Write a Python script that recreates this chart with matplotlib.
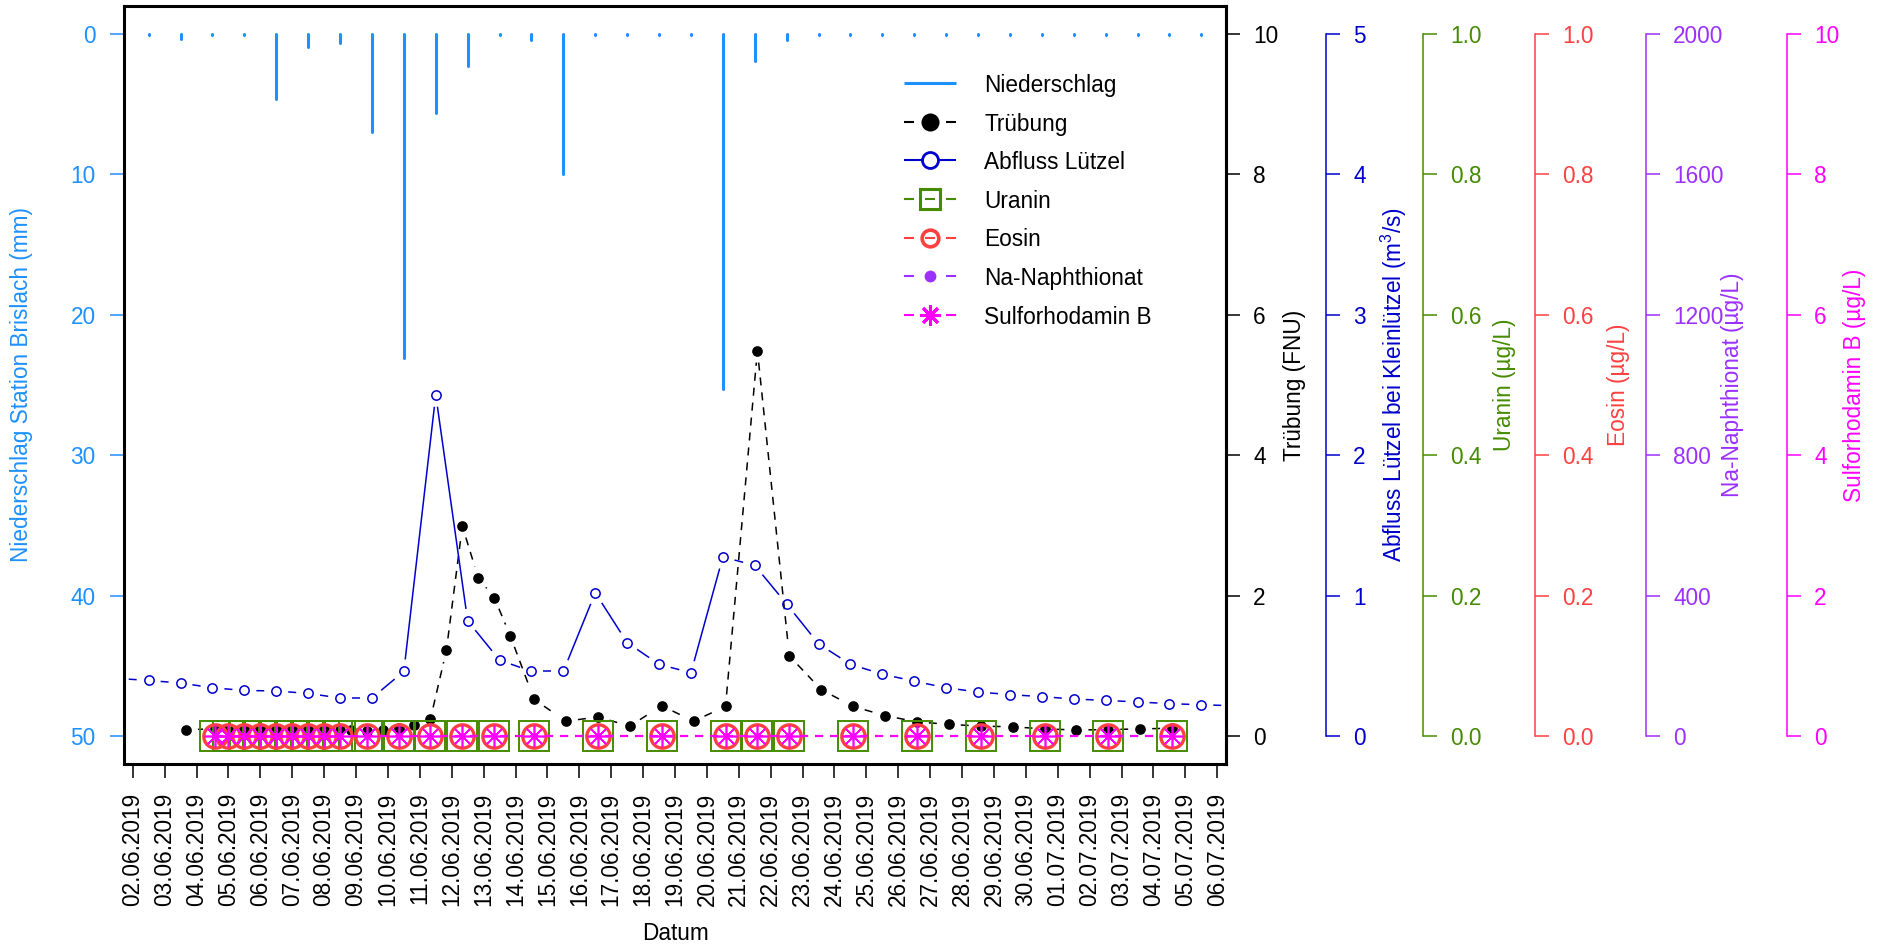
import numpy as np
import pandas as pd
import matplotlib
matplotlib.use("Agg")
import matplotlib.pyplot as plt
import matplotlib.dates as mdates
from matplotlib.lines import Line2D
from matplotlib.collections import LineCollection
from matplotlib.legend_handler import HandlerBase
from matplotlib.ticker import FixedLocator, FormatStrFormatter

plt.rcParams['font.family'] = ['Liberation Sans', 'DejaVu Sans']
plt.rcParams['mathtext.default'] = 'regular'
plt.rcParams['lines.scale_dashes'] = False

#______________________________ DATA ______________________________#

# daily precipitation Brislach (mm), values at noon
precip_start = '2019-06-02 12:00'
precip_mm = [0.1, 0.35, 0.1, 0.1, 4.6, 0.95, 0.65, 7.0, 23.1, 5.6,
             2.3, 0.1, 0.4, 10.0, 0.1, 0.1, 0.1, 0.1, 25.3, 1.9,
             0.4, 0.1, 0.1, 0.1, 0.1, 0.1, 0.1, 0.1, 0.1, 0.1,
             0.1, 0.1, 0.1, 0.1]

# daily discharge Lützel (m3/s), values at noon
abfluss_start = '2019-06-01 12:00'
abfluss = [0.41, 0.395, 0.377, 0.343, 0.324, 0.320, 0.303, 0.27, 0.27, 0.46,
           2.43, 0.82, 0.54, 0.46, 0.46, 1.02, 0.665, 0.51, 0.45, 1.275,
           1.215, 0.94, 0.656, 0.51, 0.44, 0.39, 0.343, 0.313, 0.294, 0.28,
           0.263, 0.253, 0.242, 0.23, 0.222, 0.215]

# turbidity (FNU)
trueb_time = ['2019-06-03 16:00', '2019-06-04 14:00', '2019-06-05 00:00', '2019-06-05 12:00',
              '2019-06-06 00:00', '2019-06-06 12:00', '2019-06-07 00:00', '2019-06-07 12:00',
              '2019-06-08 00:00', '2019-06-08 12:00', '2019-06-08 20:00', '2019-06-09 08:00',
              '2019-06-09 20:00', '2019-06-10 08:00', '2019-06-10 20:00', '2019-06-11 08:00',
              '2019-06-11 20:00', '2019-06-12 08:00', '2019-06-12 20:00', '2019-06-13 08:00',
              '2019-06-13 20:00', '2019-06-14 14:00', '2019-06-15 14:00', '2019-06-16 14:00',
              '2019-06-17 14:00', '2019-06-18 14:00', '2019-06-19 14:00', '2019-06-20 14:00',
              '2019-06-21 14:00', '2019-06-22 14:00', '2019-06-23 14:00', '2019-06-24 14:00',
              '2019-06-25 14:00', '2019-06-26 14:00', '2019-06-27 14:00', '2019-06-28 14:00',
              '2019-06-29 14:00', '2019-06-30 14:00', '2019-07-01 14:00', '2019-07-02 14:00',
              '2019-07-03 14:00', '2019-07-04 14:00']
trueb = [0.09, 0.10, 0.10, 0.10, 0.11, 0.10, 0.10, 0.10, 0.10, 0.09,
         0.09, 0.07, 0.09, 0.12, 0.15, 0.24, 1.22, 2.99, 2.25, 1.97,
         1.43, 0.52, 0.21, 0.27, 0.14, 0.43, 0.21, 0.42, 5.49, 1.14,
         0.66, 0.42, 0.29, 0.20, 0.165, 0.14, 0.13, 0.10, 0.085, 0.09,
         0.10, 0.11]

# tracer samples (µg/L)
probe_time = ['2019-06-04 14:00', '2019-06-05 00:00', '2019-06-05 12:00', '2019-06-06 00:00',
              '2019-06-06 12:00', '2019-06-07 00:00', '2019-06-07 12:00', '2019-06-08 00:00',
              '2019-06-08 12:00', '2019-06-09 08:00', '2019-06-10 08:00', '2019-06-11 08:00',
              '2019-06-12 08:00', '2019-06-13 08:00', '2019-06-14 14:00', '2019-06-16 14:00',
              '2019-06-18 14:00', '2019-06-20 14:00', '2019-06-21 14:00', '2019-06-22 14:00',
              '2019-06-24 14:00', '2019-06-26 14:00', '2019-06-28 14:00', '2019-06-30 14:00',
              '2019-07-02 14:00', '2019-07-04 14:00']
uranin = [0.0] * 26
eosin = [0.0] * 26
naphthionat = [0.0] * 26
sulforhodamin = [0.0] * 26

#______________________________ STYLE ______________________________#

c_rain = '#1E90FF'
c_q = '#0000CD'
c_ura = '#458B00'
c_eos = '#FF4040'
c_nap = '#9B30FF'
c_sulf = '#FF00FF'
fs = 16.3
W, H = 1883, 949
L, R, T, B = 124, 1226, 6, 764      # plot box in pixels
dash = (0, (5.8, 5.0))

t_rain = mdates.date2num(pd.date_range(precip_start, periods=len(precip_mm), freq='D').to_numpy())
t_q = mdates.date2num(pd.date_range(abfluss_start, periods=len(abfluss), freq='D').to_numpy())
t_tr = mdates.date2num(pd.to_datetime(trueb_time).to_numpy())
t_pr = mdates.date2num(pd.to_datetime(probe_time).to_numpy())


def gapped(ax, x, y, gap=12.0):
    # segments between points, shortened at both ends (like R type="b")
    pts = ax.transData.transform(np.column_stack([x, y]))
    inv = ax.transData.inverted()
    segs = []
    for p0, p1 in zip(pts[:-1], pts[1:]):
        d = p1 - p0
        n = np.hypot(d[0], d[1])
        if n <= 2 * gap:
            continue
        u = d / n
        segs.append(inv.transform(np.array([p0 + u * gap, p1 - u * gap])))
    return segs


class RHandler(HandlerBase):
    def create_artists(self, legend, orig, xdescent, ydescent, width, height, fontsize, trans):
        y = (height - ydescent) / 2.0
        x0 = -xdescent
        arts = []
        ls = orig.get_linestyle()
        if ls == '--':
            pieces = [(0, 0.19), (0.405, 0.595), (0.81, 1.0)]
        elif ls == '-':
            pieces = [(0, 1)]
        else:
            pieces = []
        for a, b in pieces:
            arts.append(Line2D([x0 + a * width, x0 + b * width], [y, y], color=orig.get_color(),
                               lw=orig.get_linewidth(), solid_capstyle='butt', transform=trans))
        if orig.get_marker() not in (None, 'None', ''):
            arts.append(Line2D([x0 + width / 2], [y], linestyle='none', marker=orig.get_marker(),
                               ms=orig.get_markersize(), mfc=orig.get_markerfacecolor(),
                               mec=orig.get_markeredgecolor(), mew=orig.get_markeredgewidth(),
                               transform=trans))
        return arts


#______________________________ PLOT ______________________________#

fig = plt.figure(figsize=(W / 100, H / 100), dpi=100)
ax = fig.add_axes([L / W, 1 - B / H, (R - L) / W, (B - T) / H])

ax.set_xlim(mdates.date2num(pd.Timestamp('2019-06-01 17:27')), mdates.date2num(pd.Timestamp('2019-07-06 06:33')))
ax.set_ylim(52, -2)
for s in ax.spines.values():
    s.set_linewidth(2.2)
ax.xaxis.set_major_locator(mdates.DayLocator())
ax.xaxis.set_major_formatter(mdates.DateFormatter('%d.%m.%Y'))
ax.tick_params(axis='x', direction='out', length=10, width=1.1, pad=10.5, labelsize=fs, labelrotation=90)
ax.yaxis.set_major_locator(FixedLocator([0, 10, 20, 30, 40, 50]))
ax.tick_params(axis='y', direction='out', length=10, width=1.1, pad=10.5, labelsize=fs, colors=c_rain)

ax.vlines(t_rain, 0, precip_mm, color=c_rain, lw=2.2, capstyle='round')


def make_twin(top, color, offset, fmt):
    a = ax.twinx()
    a.set_ylim(-0.04 * top, 1.04 * top)
    for k in ('left', 'top', 'bottom'):
        a.spines[k].set_visible(False)
    a.yaxis.set_major_locator(FixedLocator(np.linspace(0, top, 6)))
    a.yaxis.set_major_formatter(FormatStrFormatter(fmt))
    a.tick_params(axis='y', direction='out', length=10, width=1.1, pad=9.5, labelsize=fs, colors=color)
    if offset is None:
        a.spines['right'].set_linewidth(2.2)
    else:
        a.spines['right'].set_position(('outward', offset))
        a.spines['right'].set_color(color)
        a.spines['right'].set_linewidth(1.1)
        a.spines['right'].set_bounds(0, top)
    return a


ax_t = make_twin(10, 'black', None, '%g')
ax_q = make_twin(5, c_q, 100 * 0.72, '%g')
ax_u = make_twin(1, c_ura, 197 * 0.72, '%.1f')
ax_e = make_twin(1, c_eos, 309 * 0.72, '%.1f')
ax_n = make_twin(2000, c_nap, 420 * 0.72, '%g')
ax_s = make_twin(10, c_sulf, 561 * 0.72, '%g')

# turbidity
ax_t.add_collection(LineCollection(gapped(ax_t, t_tr, trueb), colors='black', linewidths=1.1, linestyles=dash))
ax_t.plot(t_tr, trueb, 'o', color='black', ms=7.7, mew=0)

# discharge
ax_q.add_collection(LineCollection(gapped(ax_q, t_q, abfluss), colors=c_q, linewidths=1.1))
ax_q.plot(t_q, abfluss, 'o', mfc='none', mec=c_q, ms=6.7, mew=1.1)

# tracers
ax_u.plot(t_pr, uranin, color=c_ura, lw=1.3, ls=dash, marker='s', mfc='none', mec=c_ura, ms=21.6, mew=1.4)
ax_e.plot(t_pr, eosin, color=c_eos, lw=1.3, ls=dash, marker='o', mfc='none', mec=c_eos, ms=16.8, mew=2.4)
ax_n.plot(t_pr, naphthionat, color=c_nap, lw=1.3, ls=dash, marker='o', mfc=c_nap, mec=c_nap, ms=4.5, mew=0)
ax_s.plot(t_pr, sulforhodamin, color=c_sulf, lw=1.6, ls=dash, marker=(8, 2, 0), mec=c_sulf, ms=15.5, mew=1.2)

# axis labels
def px(x, y):
    return x / W, 1 - y / H

yc = (T + B) / 2
fig.text(*px(22, yc), 'Niederschlag Station Brislach (mm)', rotation=90, ha='center', va='center', color=c_rain, fontsize=fs)
fig.text(*px(1295, yc), 'Trübung (FNU)', rotation=90, ha='center', va='center', color='black', fontsize=fs)
fig.text(*px(1394, yc), 'Abfluss Lützel bei Kleinlützel (m$^3$/s)', rotation=90, ha='center', va='center', color=c_q, fontsize=fs)
fig.text(*px(1505, yc), 'Uranin (µg/L)', rotation=90, ha='center', va='center', color=c_ura, fontsize=fs)
fig.text(*px(1619, yc), 'Eosin (µg/L)', rotation=90, ha='center', va='center', color=c_eos, fontsize=fs)
fig.text(*px(1733, yc), 'Na-Naphthionat (µg/L)', rotation=90, ha='center', va='center', color=c_nap, fontsize=fs)
fig.text(*px(1855, yc), 'Sulforhodamin B (µg/L)', rotation=90, ha='center', va='center', color=c_sulf, fontsize=fs)
fig.text(*px((L + R) / 2, 933), 'Datum', ha='center', va='center', fontsize=fs)

# legend
handles = [
    Line2D([], [], color=c_rain, ls='-', lw=2.2),
    Line2D([], [], color='black', ls='--', lw=1.5, marker='o', mfc='black', mec='black', ms=13, mew=0),
    Line2D([], [], color=c_q, ls='-', lw=1.5, marker='o', mfc='white', mec=c_q, ms=11.5, mew=2),
    Line2D([], [], color=c_ura, ls='--', lw=1.5, marker='s', mfc='none', mec=c_ura, ms=14, mew=2.2),
    Line2D([], [], color=c_eos, ls='--', lw=1.5, marker='o', mfc='none', mec=c_eos, ms=12, mew=2.6),
    Line2D([], [], color=c_nap, ls='--', lw=1.5, marker='o', mfc=c_nap, mec=c_nap, ms=8.5, mew=0),
    Line2D([], [], color=c_sulf, ls='--', lw=1.5, marker=(8, 2, 0), mec=c_sulf, ms=15, mew=2.2),
]
labels = ['Niederschlag', 'Trübung', 'Abfluss Lützel', 'Uranin', 'Eosin', 'Na-Naphthionat', 'Sulforhodamin B']
ax_s.legend(handles, labels, handler_map={Line2D: RHandler()}, frameon=False, loc='upper left',
            bbox_to_anchor=px(904, 74), bbox_transform=fig.transFigure, fontsize=fs,
            handlelength=2.3, handletextpad=1.24, handleheight=1.0, labelspacing=0.69,
            borderpad=0, borderaxespad=0)

fig.savefig('out.png', dpi=100)
